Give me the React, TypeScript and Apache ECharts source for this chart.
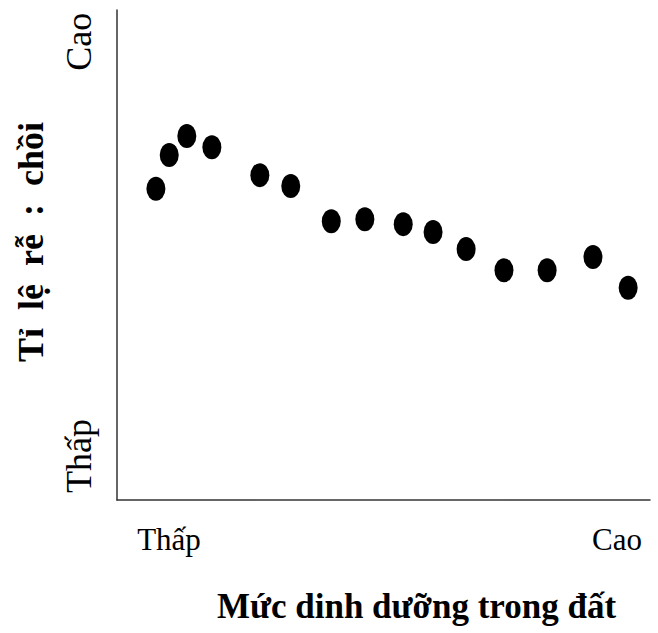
import React, { useEffect, useRef } from "react";
import * as echarts from "echarts";

// Nutrient level (x, relative 0-100) vs root:shoot ratio (y, relative 0-100)
const nutrientLevel = [7.3, 9.8, 13.1, 17.8, 26.8, 32.6, 40.2, 46.5, 53.7, 59.3, 65.5, 72.6, 80.7, 89.3, 95.9];
const rootShootRatio = [63.5, 70.4, 74.3, 72.0, 66.3, 64.1, 56.9, 57.3, 56.3, 54.7, 51.2, 46.9, 46.9, 49.6, 43.3];

const xTickValues = [9.76, 93.8];
const xTickLabels = ["Thấp", "Cao"];
const yTickValues = [9.0, 93.5];
const yTickLabels = ["Thấp", "Cao"];

const xAxisTitle = "Mức dinh dưỡng trong đất";
const yAxisTitle = "Tỉ  lệ  rễ  :  chồi";

const FONT = "'Liberation Serif', 'Times New Roman', serif";

export default function App() {
  const ref = useRef<HTMLDivElement>(null);

  useEffect(() => {
    if (!ref.current) return;
    const chart = echarts.init(ref.current, null, { renderer: "svg" });
    const points = nutrientLevel.map((x, i) => [x, rootShootRatio[i]]);
    chart.setOption({
      animation: false,
      backgroundColor: "#ffffff",
      grid: { left: 117, right: 8, top: 10, bottom: 133 },
      xAxis: {
        type: "value",
        min: 0,
        max: 100,
        splitLine: { show: false },
        axisTick: { show: false },
        axisLine: { show: true, lineStyle: { color: "#333333", width: 1.5 } },
        axisLabel: {
          customValues: xTickValues,
          formatter: (v: number) => {
            const i = xTickValues.indexOf(v);
            return i >= 0 ? xTickLabels[i] : "";
          },
          margin: 24,
          fontSize: 31,
          fontFamily: FONT,
          color: "#000000",
        },
        name: xAxisTitle,
        nameLocation: "middle",
        nameGap: 89,
        nameTextStyle: {
          fontSize: 35,
          fontWeight: "bold",
          fontFamily: FONT,
          color: "#000000",
          padding: [0, 0, 0, 66],
        },
      },
      yAxis: {
        type: "value",
        min: 0,
        max: 100,
        splitLine: { show: false },
        axisTick: { show: false },
        axisLine: { show: true, lineStyle: { color: "#333333", width: 1.5 } },
        axisLabel: {
          customValues: yTickValues,
          formatter: (v: number) => {
            const i = yTickValues.indexOf(v);
            return i >= 0 ? yTickLabels[i] : "";
          },
          rotate: 90,
          margin: 20,
          fontSize: 36,
          fontFamily: FONT,
          color: "#000000",
        },
        name: yAxisTitle,
        nameLocation: "middle",
        nameGap: 68,
        nameTextStyle: {
          fontSize: 36,
          fontWeight: "bold",
          fontFamily: FONT,
          color: "#000000",
          padding: [0, 0, 0, 26],
        },
      },
      series: [
        {
          type: "scatter",
          data: points,
          symbol: "path://M10,0 A10,10 0 1,1 10,20 A10,10 0 1,1 10,0 Z",
          symbolSize: [19, 24],
          itemStyle: { color: "#000000", opacity: 1 },
        },
      ],
    });
    return () => chart.dispose();
  }, []);

  return (
    <div
      ref={ref}
      style={{ position: "fixed", left: 0, top: 0, width: 658, height: 633, background: "#fff" }}
    />
  );
}
